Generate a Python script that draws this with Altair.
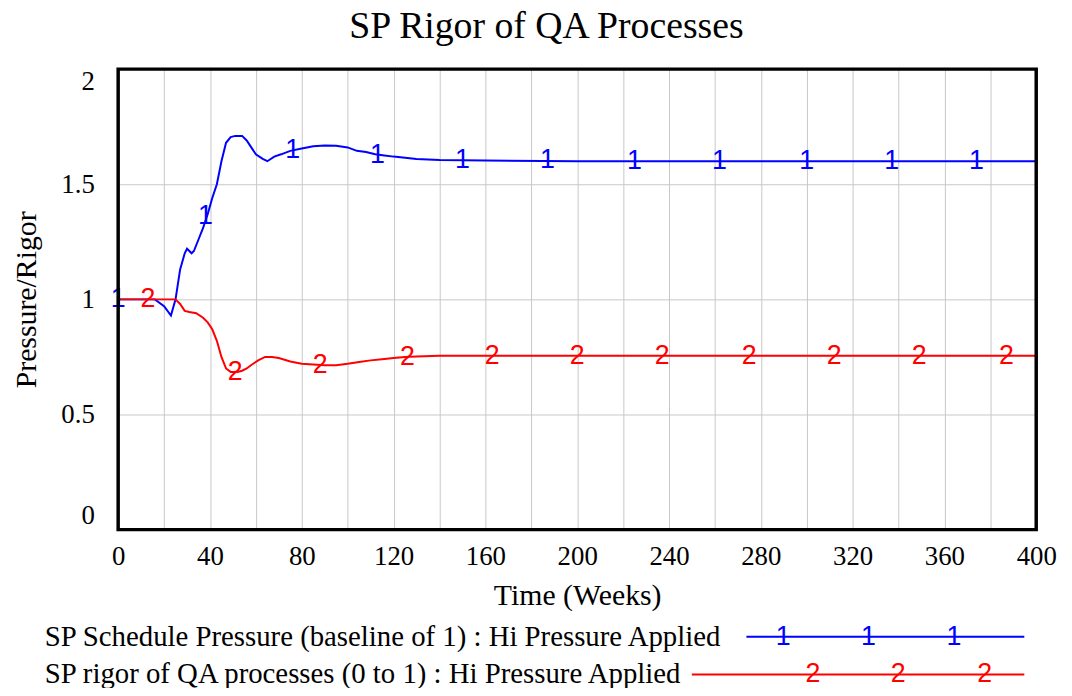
import altair as alt
import pandas as pd

# ---- data ----
blue_t = [0, 16, 20, 23, 25, 27, 29, 30, 32, 33, 35, 37, 39, 41, 43, 45, 47, 49, 51, 54, 56, 58, 60, 63, 65, 68, 71, 75,
          80, 85, 90, 95, 100, 104, 108, 112, 116, 120, 125, 130, 140, 160, 200, 250, 300, 350, 400]
blue_v = [1.0, 1.0, 0.97, 0.93, 1.0, 1.13, 1.2, 1.22, 1.2, 1.21, 1.26, 1.31, 1.37, 1.44, 1.50, 1.60, 1.68, 1.705, 1.71,
          1.71, 1.69, 1.66, 1.63, 1.61, 1.60, 1.62, 1.63, 1.645, 1.655, 1.665, 1.668, 1.667, 1.66, 1.645, 1.64, 1.63,
          1.625, 1.62, 1.615, 1.61, 1.605, 1.603, 1.6, 1.6, 1.6, 1.6, 1.6]
red_t = [0, 25, 27, 29, 31, 34, 37, 39, 41, 43, 45, 47, 49, 52, 54, 56, 58, 61, 64, 67, 70, 75, 80, 85, 90, 95, 100,
         105, 110, 115, 120, 125, 130, 140, 160, 200, 250, 300, 350, 400]
red_v = [1.0, 1.0, 0.98, 0.95, 0.945, 0.94, 0.92, 0.90, 0.87, 0.82, 0.75, 0.70, 0.685, 0.685, 0.69, 0.70, 0.715, 0.735,
         0.75, 0.75, 0.745, 0.73, 0.72, 0.717, 0.714, 0.714, 0.72, 0.728, 0.735, 0.74, 0.745, 0.75, 0.752, 0.755, 0.755,
         0.755, 0.755, 0.755, 0.755, 0.755]

blue_mark_t = [0, 38, 76, 113, 150, 187, 225, 262, 300, 337, 374]
blue_mark_v = [1.0, 1.36, 1.648, 1.628, 1.605, 1.603, 1.6, 1.6, 1.6, 1.6, 1.6]
red_mark_t = [13, 51, 88, 126, 163, 200, 237, 275, 312, 349, 387]
red_mark_v = [1.0, 0.686, 0.716, 0.75, 0.755, 0.755, 0.755, 0.755, 0.755, 0.755, 0.755]

x_ticks = list(range(0, 401, 20))
y_ticks = [0, 0.5, 1, 1.5, 2]

series_names = ["SP Schedule Pressure (baseline of 1) : Hi Pressure Applied",
                "SP rigor of QA processes (0 to 1) : Hi Pressure Applied"]
series_colors = ["#0000ff", "#ff0000"]
series_labels = ["1", "2"]

lines = pd.concat([
    pd.DataFrame({"t": blue_t, "v": blue_v, "s": series_names[0]}),
    pd.DataFrame({"t": red_t, "v": red_v, "s": series_names[1]}),
])
marks = pd.concat([
    pd.DataFrame({"t": blue_mark_t, "v": blue_mark_v, "s": series_names[0], "lab": "1"}),
    pd.DataFrame({"t": red_mark_t, "v": red_mark_v, "s": series_names[1], "lab": "2"}),
])

W, H = 925, 464
SERIF = "Liberation Serif"
SANS = "Liberation Sans"
GRID = "#c8c8c8"

xs = alt.Scale(domain=[0, 400], nice=False)
ys = alt.Scale(domain=[0, 2], nice=False)
cs = alt.Scale(domain=series_names, range=series_colors)

x_enc = alt.X("t:Q", scale=xs, title="Time (Weeks)",
              axis=alt.Axis(values=x_ticks, grid=True, gridColor=GRID, gridWidth=1, domain=False, ticks=False,
                            labelExpr="datum.value % 40 == 0 ? datum.label : ''",
                            labelFont=SERIF, labelFontSize=27, labelColor="black", labelPadding=14,
                            titleFont=SERIF, titleFontSize=30, titleFontWeight="normal", titleColor="black",
                            titlePadding=11, labelOverlap=False, labelFlush=False))
y_enc = alt.Y("v:Q", scale=ys, title="Pressure/Rigor",
              axis=alt.Axis(values=y_ticks, grid=True, gridColor=GRID, gridWidth=1, domain=False, ticks=False,
                            labelFont=SERIF, labelFontSize=27, labelColor="black", labelPadding=24,
                            labelFlush=True, format="~g",
                            titleFont=SERIF, titleFontSize=30, titleFontWeight="normal", titleColor="black",
                            titlePadding=20))

line_layer = alt.Chart(lines).mark_line(strokeWidth=2).encode(
    x=x_enc, y=y_enc, color=alt.Color("s:N", scale=cs, legend=None), detail="s:N")
text_layer = alt.Chart(marks).mark_text(font=SANS, fontSize=27, baseline="middle", align="center").encode(
    x=alt.X("t:Q", scale=xs), y=alt.Y("v:Q", scale=ys), text="lab:N",
    color=alt.Color("s:N", scale=cs, legend=None))

# plot frame drawn on top of the grid
frame = alt.Chart(pd.DataFrame({"f": [0]})).mark_rect(fill=None, stroke="black", strokeWidth=3.5).encode(
    x=alt.value(0), x2=alt.value(W), y=alt.value(0), y2=alt.value(H))

# legend (bottom)
leg_y = [572, 610]
leg_x0 = [633, 578]
leg_marks_x = [[670, 756, 842], [700, 786, 873]]
legend_layers = []
for i in range(2):
    legend_layers.append(
        alt.Chart(pd.DataFrame({"n": [series_names[i]]})).mark_text(
            font=SERIF, fontSize=29, align="left", baseline="middle", color="black").encode(
            text="n:N", x=alt.value(-74), y=alt.value(leg_y[i])))
    legend_layers.append(
        alt.Chart(pd.DataFrame({"n": [series_names[i]]})).mark_rule(color=series_colors[i], strokeWidth=2).encode(
            x=alt.value(leg_x0[i]), x2=alt.value(913), y=alt.value(leg_y[i])))
    for mx in leg_marks_x[i]:
        legend_layers.append(
            alt.Chart(pd.DataFrame({"n": [series_labels[i]]})).mark_text(
                font=SANS, fontSize=27, align="center", baseline="middle", color=series_colors[i]).encode(
                text="n:N", x=alt.value(mx), y=alt.value(leg_y[i])))

chart = alt.layer(line_layer, text_layer, frame, *legend_layers).properties(
    width=W, height=H,
    title=alt.Title("SP Rigor of QA Processes", font=SERIF, fontSize=38, fontWeight="normal",
                    color="black", anchor="middle", offset=22, dx=-31),
    autosize=alt.AutoSizeParams(type="none"),
    padding={"left": 111, "top": 59, "right": 28, "bottom": 157},
).configure(background="white").configure_view(strokeWidth=0)

chart.save("out.html", embed_options={"renderer": "svg", "actions": False})
